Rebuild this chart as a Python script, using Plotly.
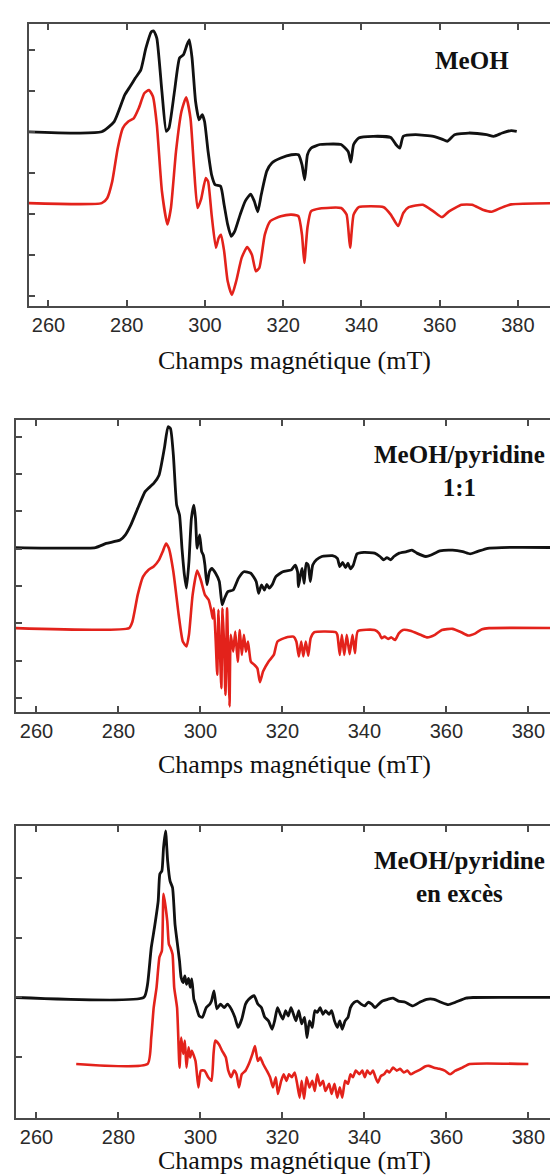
import plotly.graph_objects as go

# Magnetic field (mT) and intensity (arb. units)
# Panel 1 : MeOH
meoh_exp_field = [255, 273.6, 276.8, 279.5, 280.9, 282.2, 283.6, 284.9, 286.3, 286.9, 287.7, 289.0,
                  290.1, 290.8, 292.2, 293.5, 294.5, 295.4, 296.0, 296.7, 297.6, 298.5, 299.3, 299.9,
                  300.8, 301.7, 302.6, 304.0, 304.9, 305.8, 306.7, 307.6, 309.0, 310.3, 311.7, 312.6,
                  313.5, 314.4, 315.8, 317.1, 319.4, 322.1, 323.9, 324.8, 325.5, 326.2, 327.1, 329.4,
                  331.2, 334.8, 336.6, 337.3, 338.0, 339.3, 343.0, 347.5, 348.8, 349.8, 350.7, 353.8,
                  358.4, 360.6, 362.0, 363.8, 367.4, 372.0, 373.8, 376.0, 378.3, 379.7]
meoh_exp_signal = [4.0, 4.0, 4.25, 4.90, 5.11, 5.31, 5.51, 6.04, 6.44, 6.46, 6.28, 4.98,
                   4.01, 4.09, 4.98, 5.80, 5.88, 6.12, 6.24, 5.80, 4.74, 4.29, 4.42, 4.25,
                   3.52, 2.95, 2.71, 2.67, 2.22, 1.74, 1.45, 1.57, 1.98, 2.31, 2.48, 2.31,
                   2.05, 2.47, 3.04, 3.24, 3.36, 3.44, 3.44, 3.20, 2.83, 3.44, 3.60, 3.69,
                   3.70, 3.69, 3.52, 3.26, 3.69, 3.85, 3.89, 3.86, 3.69, 3.60, 3.89, 3.93,
                   3.89, 3.82, 3.77, 3.93, 3.97, 3.93, 3.89, 3.97, 4.03, 4.01]

meoh_sim_field = [255, 273.6, 275.0, 276.3, 277.7, 279.0, 280.4, 281.8, 283.1, 284.5, 285.7, 286.7,
                  287.7, 289.0, 290.4, 291.3, 292.6, 294.0, 295.2, 296.3, 297.2, 298.1, 299.0, 300.2,
                  300.8, 301.7, 302.8, 303.5, 304.1, 304.9, 305.8, 306.9, 308.0, 309.4, 310.8, 312.0,
                  313.0, 313.9, 315.3, 316.7, 319.4, 322.1, 323.9, 324.8, 325.4, 326.2, 327.1, 329.4,
                  334.8, 336.2, 337.1, 338.0, 339.3, 345.7, 347.5, 349.4, 350.7, 352.1, 355.7, 358.4,
                  360.6, 362.4, 365.6, 368.3, 371.0, 373.3, 375.6, 378.3, 390]
meoh_sim_signal = [2.26, 2.26, 2.38, 2.79, 3.60, 4.09, 4.25, 4.33, 4.58, 4.94, 5.02, 4.86,
                   4.17, 2.55, 1.74, 2.14, 3.52, 4.50, 4.84, 4.33, 3.12, 2.14, 2.35, 2.87,
                   2.79, 1.98, 1.17, 1.41, 1.49, 1.09, 0.36, 0.02, 0.36, 0.93, 1.19, 1.00,
                   0.60, 0.68, 1.49, 1.82, 1.94, 1.98, 1.94, 1.49, 0.80, 1.66, 2.06, 2.13,
                   2.14, 1.98, 1.17, 1.98, 2.16, 2.16, 1.98, 1.70, 2.02, 2.16, 2.22, 2.06,
                   1.92, 2.06, 2.22, 2.22, 2.10, 2.05, 2.14, 2.23, 2.26]

# Panel 2 : MeOH/pyridine 1:1
pyr11_exp_field = [255, 274.4, 277.0, 280.4, 281.7, 283.0, 284.7, 286.5, 287.3, 288.6, 289.9, 291.2,
                   292.1, 292.7, 293.4, 294.2, 294.9, 295.5, 296.1, 296.6, 297.2, 297.8, 298.4, 298.8,
                   299.2, 299.8, 300.3, 300.7, 301.1, 301.6, 302.2, 302.8, 303.7, 304.6, 305.3, 305.9,
                   306.7, 308.0, 309.3, 310.6, 312.3, 313.6, 314.2, 314.9, 315.6, 316.2, 316.8, 317.5,
                   318.4, 320.1, 322.2, 323.1, 323.7, 323.9, 324.4, 324.8, 325.3, 325.8, 326.3, 326.8,
                   327.4, 328.3, 329.6, 332.2, 333.4, 334.0, 334.7, 335.4, 336.0, 336.6, 337.3, 338.2,
                   339.9, 342.5, 343.8, 344.7, 345.5, 346.4, 347.2, 348.5, 350.3, 351.6, 352.8, 355.0,
                   356.3, 358.4, 361.5, 364.0, 365.8, 367.5, 370.1, 373.5, 390]
pyr11_exp_signal = [4.03, 4.03, 4.14, 4.23, 4.37, 4.63, 5.08, 5.53, 5.62, 5.75, 5.97, 6.69,
                    7.27, 7.22, 6.51, 5.17, 4.90, 4.01, 3.29, 2.94, 3.65, 4.81, 5.17, 4.81,
                    4.01, 4.37, 3.92, 3.83, 3.56, 3.03, 3.38, 3.47, 3.34, 3.12, 2.49, 2.67,
                    2.85, 2.89, 3.21, 3.38, 3.34, 3.12, 2.80, 3.03, 2.89, 3.04, 2.94, 3.03,
                    3.25, 3.38, 3.43, 3.56, 3.38, 2.98, 3.29, 3.47, 3.07, 3.61, 3.56, 3.12,
                    3.56, 3.70, 3.79, 3.81, 3.74, 3.52, 3.63, 3.49, 3.61, 3.46, 3.56, 3.86,
                    3.90, 3.88, 3.79, 3.70, 3.76, 3.70, 3.79, 3.88, 3.92, 3.96, 3.88, 3.79,
                    3.83, 3.94, 3.96, 3.92, 3.86, 3.92, 4.01, 4.03, 4.03]

pyr11_sim_field = [255, 282.6, 283.4, 284.7, 286.0, 287.3, 288.6, 289.9, 290.8, 291.6, 292.3, 293.4,
                   294.7, 295.7, 296.6, 297.2, 298.1, 299.2, 300.1, 301.1, 302.0, 302.7, 303.0, 303.3,
                   303.7, 304.1, 304.4, 304.7, 305.1, 305.4, 305.8, 306.1, 306.5, 306.8, 307.1, 307.4,
                   308.0, 308.5, 309.1, 309.6, 310.1, 310.6, 311.1, 311.6, 312.3, 313.2, 313.9, 314.5,
                   315.3, 316.6, 317.9, 318.8, 320.9, 322.7, 323.4, 324.0, 324.6, 325.1, 325.7, 326.3,
                   326.9, 327.8, 333.0, 333.4, 334.0, 334.5, 335.1, 335.7, 336.4, 337.1, 337.7, 338.4,
                   342.5, 343.6, 344.2, 344.9, 345.8, 346.6, 347.5, 348.4, 349.4, 351.2, 353.7, 355.4,
                   357.2, 358.9, 361.5, 363.6, 365.3, 367.1, 368.7, 370.4, 390]
pyr11_sim_signal = [1.87, 1.87, 2.04, 2.76, 3.25, 3.43, 3.52, 3.70, 3.92, 4.14, 4.01, 3.38,
                    2.22, 1.51, 1.38, 1.69, 2.76, 3.41, 3.16, 2.76, 2.63, 2.31, 2.13, 2.40,
                    1.60, 0.62, 2.36, 1.51, 0.26, 2.40, 1.33, 0.08, 2.40, 0.97, -0.23, 1.69,
                    1.24, 1.78, 0.97, 1.82, 1.15, 1.69, 1.24, 1.51, 0.97, 0.88, 0.79, 0.42,
                    0.71, 0.97, 1.15, 1.51, 1.62, 1.64, 1.51, 1.11, 1.51, 1.11, 1.51, 1.13,
                    1.60, 1.76, 1.76, 1.69, 1.15, 1.69, 1.15, 1.69, 1.17, 1.69, 1.20, 1.79,
                    1.82, 1.73, 1.60, 1.64, 1.58, 1.62, 1.55, 1.73, 1.82, 1.80, 1.69, 1.62,
                    1.69, 1.82, 1.85, 1.76, 1.67, 1.73, 1.84, 1.87, 1.87]

# Panel 3 : MeOH/pyridine en excès
pyrex_exp_field = [255, 286.2, 287.1, 288.0, 288.8, 289.7, 290.1, 290.6, 291.0, 291.5, 292.0, 292.6,
                   293.2, 293.8, 294.3, 294.9, 295.3, 295.8, 296.2, 296.6, 297.1, 297.5, 297.9, 298.4,
                   298.8, 299.7, 300.5, 301.4, 302.3, 302.7, 303.3, 304.0, 304.9, 305.8, 306.6, 307.5,
                   308.4, 309.2, 310.1, 311.0, 311.8, 313.1, 314.0, 314.9, 315.7, 316.6, 317.5, 318.1,
                   318.8, 319.5, 320.1, 320.8, 321.4, 322.1, 322.7, 323.3, 324.0, 324.7, 325.4, 326.0,
                   326.6, 327.3, 327.9, 328.5, 329.2, 329.9, 330.5, 331.4, 332.0, 332.7, 333.4, 334.0,
                   334.6, 335.3, 336.0, 336.6, 337.5, 338.3, 339.2, 340.1, 340.9, 341.8, 342.6, 343.5,
                   344.4, 345.7, 347.0, 348.3, 350.0, 351.8, 353.5, 355.2, 357.0, 358.7, 360.5, 362.2,
                   364.8, 366.5, 390]
pyrex_exp_signal = [1.0, 1.0, 1.22, 1.83, 2.17, 2.61, 3.06, 3.11, 3.50, 3.78, 3.28, 2.94,
                    2.83, 2.22, 1.94, 1.61, 1.33, 1.25, 1.36, 1.22, 1.32, 1.17, 1.31, 0.97,
                    0.89, 0.69, 0.67, 0.83, 0.89, 0.94, 1.11, 0.81, 0.89, 0.83, 0.89, 0.81,
                    0.67, 0.50, 0.64, 0.89, 0.97, 1.03, 0.89, 0.83, 0.67, 0.61, 0.47, 0.61,
                    0.83, 0.72, 0.64, 0.78, 0.69, 0.83, 0.72, 0.61, 0.78, 0.56, 0.67, 0.33,
                    0.61, 0.50, 0.78, 0.75, 0.83, 0.72, 0.78, 0.72, 0.78, 0.61, 0.50, 0.61,
                    0.47, 0.61, 0.67, 0.83, 0.92, 0.94, 0.89, 0.86, 0.92, 0.89, 0.83, 0.89,
                    0.94, 0.97, 0.99, 0.94, 0.92, 0.86, 0.92, 0.97, 0.97, 0.92, 0.88, 0.92,
                    0.99, 1.0, 1.0]

pyrex_sim_field = [269.7, 287.1, 288.0, 288.6, 289.3, 290.0, 290.6, 291.0, 291.9, 292.3, 292.7, 293.2,
                   293.6, 294.3, 294.9, 295.3, 295.8, 296.2, 296.6, 297.1, 297.5, 297.9, 298.8, 299.5,
                   300.1, 301.0, 301.9, 302.7, 303.2, 303.6, 304.5, 305.3, 306.2, 306.8, 307.5, 308.2,
                   308.8, 309.4, 310.1, 311.0, 311.8, 312.7, 313.3, 314.0, 314.6, 315.3, 316.2, 317.0,
                   317.7, 318.4, 318.9, 319.7, 320.3, 321.0, 321.6, 322.3, 323.0, 323.6, 324.2, 324.7,
                   325.3, 325.9, 326.6, 327.3, 327.9, 328.5, 329.2, 329.9, 330.5, 331.4, 332.0, 332.7,
                   333.4, 334.0, 334.6, 335.3, 336.0, 336.6, 337.2, 337.9, 338.8, 339.5, 340.1, 340.7,
                   341.4, 342.1, 342.7, 343.3, 344.0, 344.8, 345.5, 346.1, 347.0, 347.9, 348.7, 349.6,
                   350.5, 351.3, 352.2, 353.1, 353.9, 354.8, 355.7, 357.0, 358.3, 359.6, 360.9, 362.2,
                   363.9, 365.7, 380.0]
pyrex_sim_signal = [-0.11, -0.11, 0.33, 0.83, 1.17, 1.67, 1.78, 2.73, 2.28, 1.89, 1.83, 1.72,
                    1.17, 0.83, -0.17, 0.33, 0.06, 0.28, -0.17, 0.17, 0.0, 0.11, -0.06, -0.50,
                    -0.22, -0.22, -0.33, -0.39, 0.06, 0.28, 0.22, 0.11, 0.0, -0.22, -0.33, -0.22,
                    -0.28, -0.50, -0.28, -0.22, -0.11, 0.06, 0.19, -0.06, 0.0, -0.11, -0.22, -0.33,
                    -0.50, -0.33, -0.61, -0.39, -0.28, -0.39, -0.28, -0.33, -0.25, -0.44, -0.67, -0.39,
                    -0.69, -0.33, -0.50, -0.39, -0.56, -0.28, -0.47, -0.39, -0.56, -0.44, -0.61, -0.44,
                    -0.67, -0.50, -0.67, -0.39, -0.44, -0.28, -0.33, -0.22, -0.28, -0.22, -0.33, -0.22,
                    -0.28, -0.22, -0.33, -0.42, -0.31, -0.28, -0.22, -0.25, -0.17, -0.22, -0.19, -0.25,
                    -0.22, -0.28, -0.25, -0.22, -0.19, -0.15, -0.14, -0.17, -0.19, -0.22, -0.28, -0.22,
                    -0.17, -0.11, -0.11]

x_ticks = [260, 280, 300, 320, 340, 360, 380]
x_title = "Champs magnétique (mT)"
labels = ["MeOH", "MeOH/pyridine<br>1:1", "MeOH/pyridine<br>en excès"]

BLACK = "#111111"
RED = "#e3221b"
FRAME = "#4a4a4a"

W, H = 558, 1176

# panel boxes in pixels: (left, right, top, bottom)
panels = [
    (21, 551, 16, 298),
    (8, 558, 412, 704),
    (8, 558, 818, 1110),
]
y_ranges = [[-0.25, 6.63], [-0.38, 7.45], [-1.01, 3.86]]
y_ticks = [list(range(0, 7)), list(range(0, 8)), [-1, 0, 1, 2, 3]]
x_ranges = [[255, 390], [255, 388.7], [255, 388.7]]

data = [
    (meoh_exp_field, meoh_exp_signal, meoh_sim_field, meoh_sim_signal),
    (pyr11_exp_field, pyr11_exp_signal, pyr11_sim_field, pyr11_sim_signal),
    (pyrex_exp_field, pyrex_exp_signal, pyrex_sim_field, pyrex_sim_signal),
]

fig = go.Figure()

for i, (xe, ye, xs, ys) in enumerate(data):
    n = "" if i == 0 else str(i + 1)
    fig.add_trace(go.Scatter(x=xs, y=ys, mode="lines", xaxis="x" + n, yaxis="y" + n,
                             line=dict(color=RED, width=2.6, shape="spline", smoothing=0.5),
                             showlegend=False))
    fig.add_trace(go.Scatter(x=xe, y=ye, mode="lines", xaxis="x" + n, yaxis="y" + n,
                             line=dict(color=BLACK, width=2.8, shape="spline", smoothing=0.5),
                             showlegend=False))

    left, right, top, bottom = panels[i]
    axis_common = dict(showline=True, linecolor=FRAME, linewidth=2, mirror="ticks",
                       ticks="inside", ticklen=6, tickwidth=1.5, tickcolor=FRAME,
                       showgrid=False, zeroline=False)
    fig.update_layout({
        "xaxis" + n: dict(domain=[left / W, right / W], range=x_ranges[i],
                          tickvals=x_ticks, anchor="y" + n,
                          tickfont=dict(family="Liberation Sans", size=20, color="#2a2a2a"),
                          **axis_common),
        "yaxis" + n: dict(domain=[1 - bottom / H, 1 - top / H], range=y_ranges[i],
                          tickvals=y_ticks[i], showticklabels=False, anchor="x" + n,
                          **axis_common),
    })

# axis titles
for ty in [352, 756, 1152]:
    fig.add_annotation(x=288 / W, y=1 - ty / H, xref="paper", yref="paper",
                       text=x_title, showarrow=False, xanchor="center", yanchor="middle",
                       font=dict(family="Liberation Serif", size=26, color="#111"))

# sample labels
for (lx, ly), txt in zip([(466, 52), (453, 463), (453, 869)], labels):
    fig.add_annotation(x=lx / W, y=1 - ly / H, xref="paper", yref="paper",
                       text="<b>" + txt + "</b>", showarrow=False, align="center",
                       xanchor="center", yanchor="middle",
                       font=dict(family="Liberation Serif", size=25, color="#111"))

fig.update_layout(width=W, height=H, margin=dict(l=0, r=0, t=0, b=0),
                  paper_bgcolor="white", plot_bgcolor="white")

fig.write_html("out.html")
